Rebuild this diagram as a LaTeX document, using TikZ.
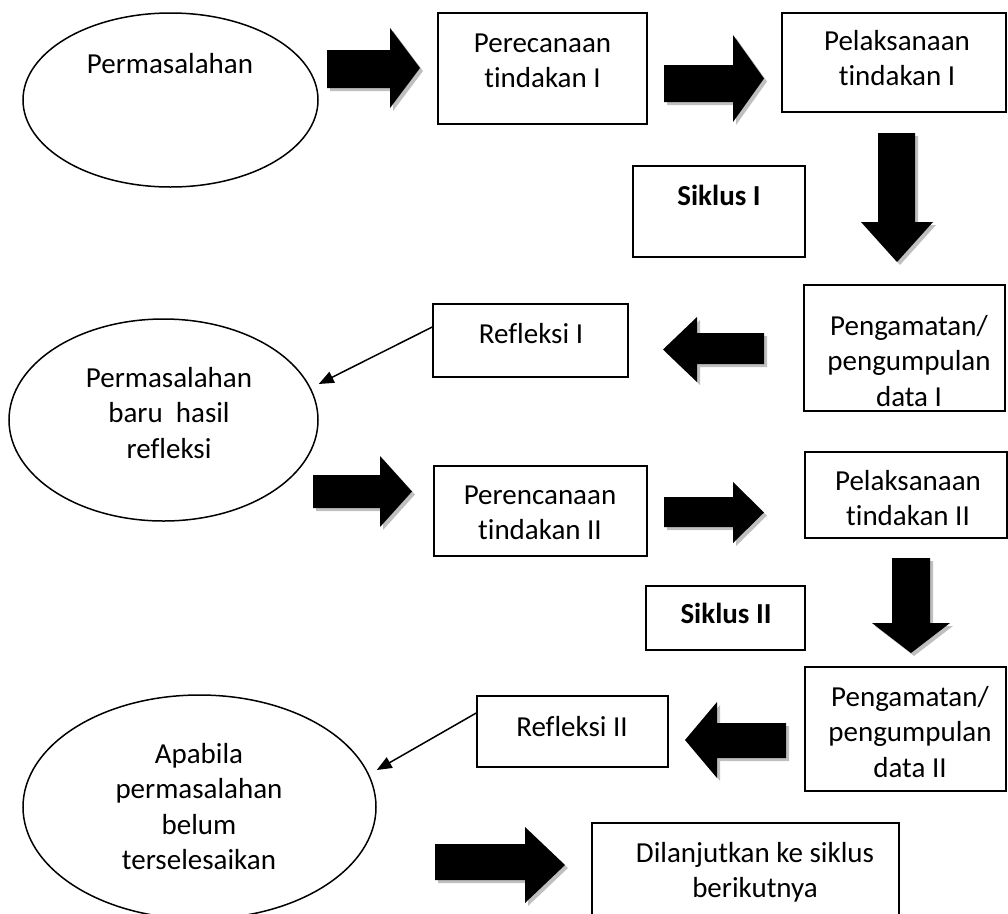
\documentclass[tikz,border=0pt]{standalone}
\usepackage{fontspec}
\setmainfont[Ligatures=NoCommon]{Carlito}
\usetikzlibrary{arrows.meta,shapes.geometric,fit}

% panah blok hitam dengan bayangan abu-abu
\newcommand{\panahblok}[1]{%
  \fill[bayang,xshift=3pt,yshift=-3pt] #1 -- cycle;
  \fill[black] #1 -- cycle;}

\tikzset{
  kotak/.style={draw,line width=1.5pt,rectangle,inner sep=0pt},
  elips/.style={draw,line width=1.5pt,ellipse,inner sep=0pt},
  teks/.style={anchor=north,align=center,inner sep=0pt,font=\fontsize{29}{35.5}\selectfont},
  bayang/.style={fill=black!25},
  panahtipis/.style={-{Triangle[length=15pt,width=12pt]},line width=1.5pt}
}

\begin{document}
\begin{tikzpicture}[x=1pt,y=-1pt]
  \useasboundingbox (0,0) rectangle (1008,913);
  \clip (0,0) rectangle (1008,913);
  % Siklus I
  \node[elips,minimum width=295pt,minimum height=174pt] (elips1) at (170.5,100) {};
  \node[teks] (t-elips1) at (170,48) {\strut Permasalahan};
  \node[kotak,fit={(438,13) (647,124)}] (rencana1) {};
  \node[teks] (t-rencana1) at (542.5,27) {\strut Perecanaan\\tindakan I};
  \node[kotak,fit={(782,13) (1006,112)}] (laksana1) {};
  \node[teks] (t-laksana1) at (897,25) {\strut Pelaksanaan\\tindakan I};
  \node[kotak,fit={(633,166) (805,257)}] (siklus1) {};
  \node[teks,font=\fontsize{29}{35.5}\selectfont\bfseries] (t-siklus1) at (719,180) {\strut Siklus I};
  \node[kotak,fit={(804,285) (1005,411)}] (amati1) {};
  \node[teks] (t-amati1) at (909,310) {\strut Pengamatan/\\pengumpulan\\data I};
  \node[kotak,fit={(433,304) (628,377)}] (refleksi1) {};
  \node[teks] (t-refleksi1) at (531,318) {\strut Refleksi I};
  \panahblok{(327,50) -- (390,50) -- (390,28) -- (420,68) -- (390,108) -- (390,88) -- (327,88)}
  \panahblok{(664,65) -- (733,65) -- (733,35) -- (764,78.5) -- (733,122) -- (733,102) -- (664,102)}
  \panahblok{(878,133) -- (915,133) -- (915,222) -- (933,222) -- (897,262) -- (861,222) -- (878,222)}
  \panahblok{(764,333) -- (697,333) -- (697,317) -- (663,349.5) -- (697,382) -- (697,364) -- (764,364)}
  % Siklus II
  \node[elips,minimum width=309pt,minimum height=202pt] (elips2) at (163.5,420) {};
  \node[teks] (t-elips2) at (169,362) {\strut Permasalahan\\baru~ hasil\\refleksi};
  \draw[panahtipis] ([yshift=13.5pt]refleksi1.west) -- ([yshift=36pt]elips2.east);
  \node[kotak,fit={(434,466) (647,556)}] (rencana2) {};
  \node[teks] (t-rencana2) at (540,479) {\strut Perencanaan\\tindakan II};
  \node[kotak,fit={(805,452) (1007,538)}] (laksana2) {};
  \node[teks] (t-laksana2) at (908,465) {\strut Pelaksanaan\\tindakan II};
  \node[kotak,fit={(646,586) (805,650)}] (siklus2) {};
  \node[teks,font=\fontsize{29}{35.5}\selectfont\bfseries] (t-siklus2) at (726,598) {\strut Siklus II};
  \node[kotak,fit={(805,667) (1006,791)}] (amati2) {};
  \node[teks] (t-amati2) at (910,681) {\strut Pengamatan/\\pengumpulan\\data II};
  \node[kotak,fit={(477,696) (668,767)}] (refleksi2) {};
  \node[teks] (t-refleksi2) at (572,711) {\strut Refleksi II};
  \panahblok{(313,475) -- (380,475) -- (380,456) -- (412,491.5) -- (380,527) -- (380,508) -- (313,508)}
  \panahblok{(664,497) -- (733,497) -- (733,482) -- (764,512.5) -- (733,543) -- (733,527) -- (664,527)}
  \panahblok{(892,558) -- (930,558) -- (930,623) -- (950,623) -- (911,653) -- (872,623) -- (892,623)}
  \panahblok{(786,723) -- (717,723) -- (717,702) -- (685,740) -- (717,778) -- (717,758) -- (786,758)}
  % Lanjutan
  \node[elips,minimum width=353pt,minimum height=224pt] (elips3) at (199.5,807) {};
  \node[teks] (t-elips3) at (199,738) {\strut Apabila\\permasalahan\\belum\\terselesaikan};
  \node[kotak,fit={(592,823) (899,940)}] (lanjut) {};
  \node[teks] (t-lanjut) at (755,837) {\strut Dilanjutkan ke siklus\\berikutnya};
  \panahblok{(435,844) -- (525,844) -- (525,827) -- (565,865) -- (525,903) -- (525,880) -- (435,880)}
  \draw[panahtipis] ([yshift=18.5pt]refleksi2.west) -- ([yshift=37pt]elips3.east);
\end{tikzpicture}
\end{document}
